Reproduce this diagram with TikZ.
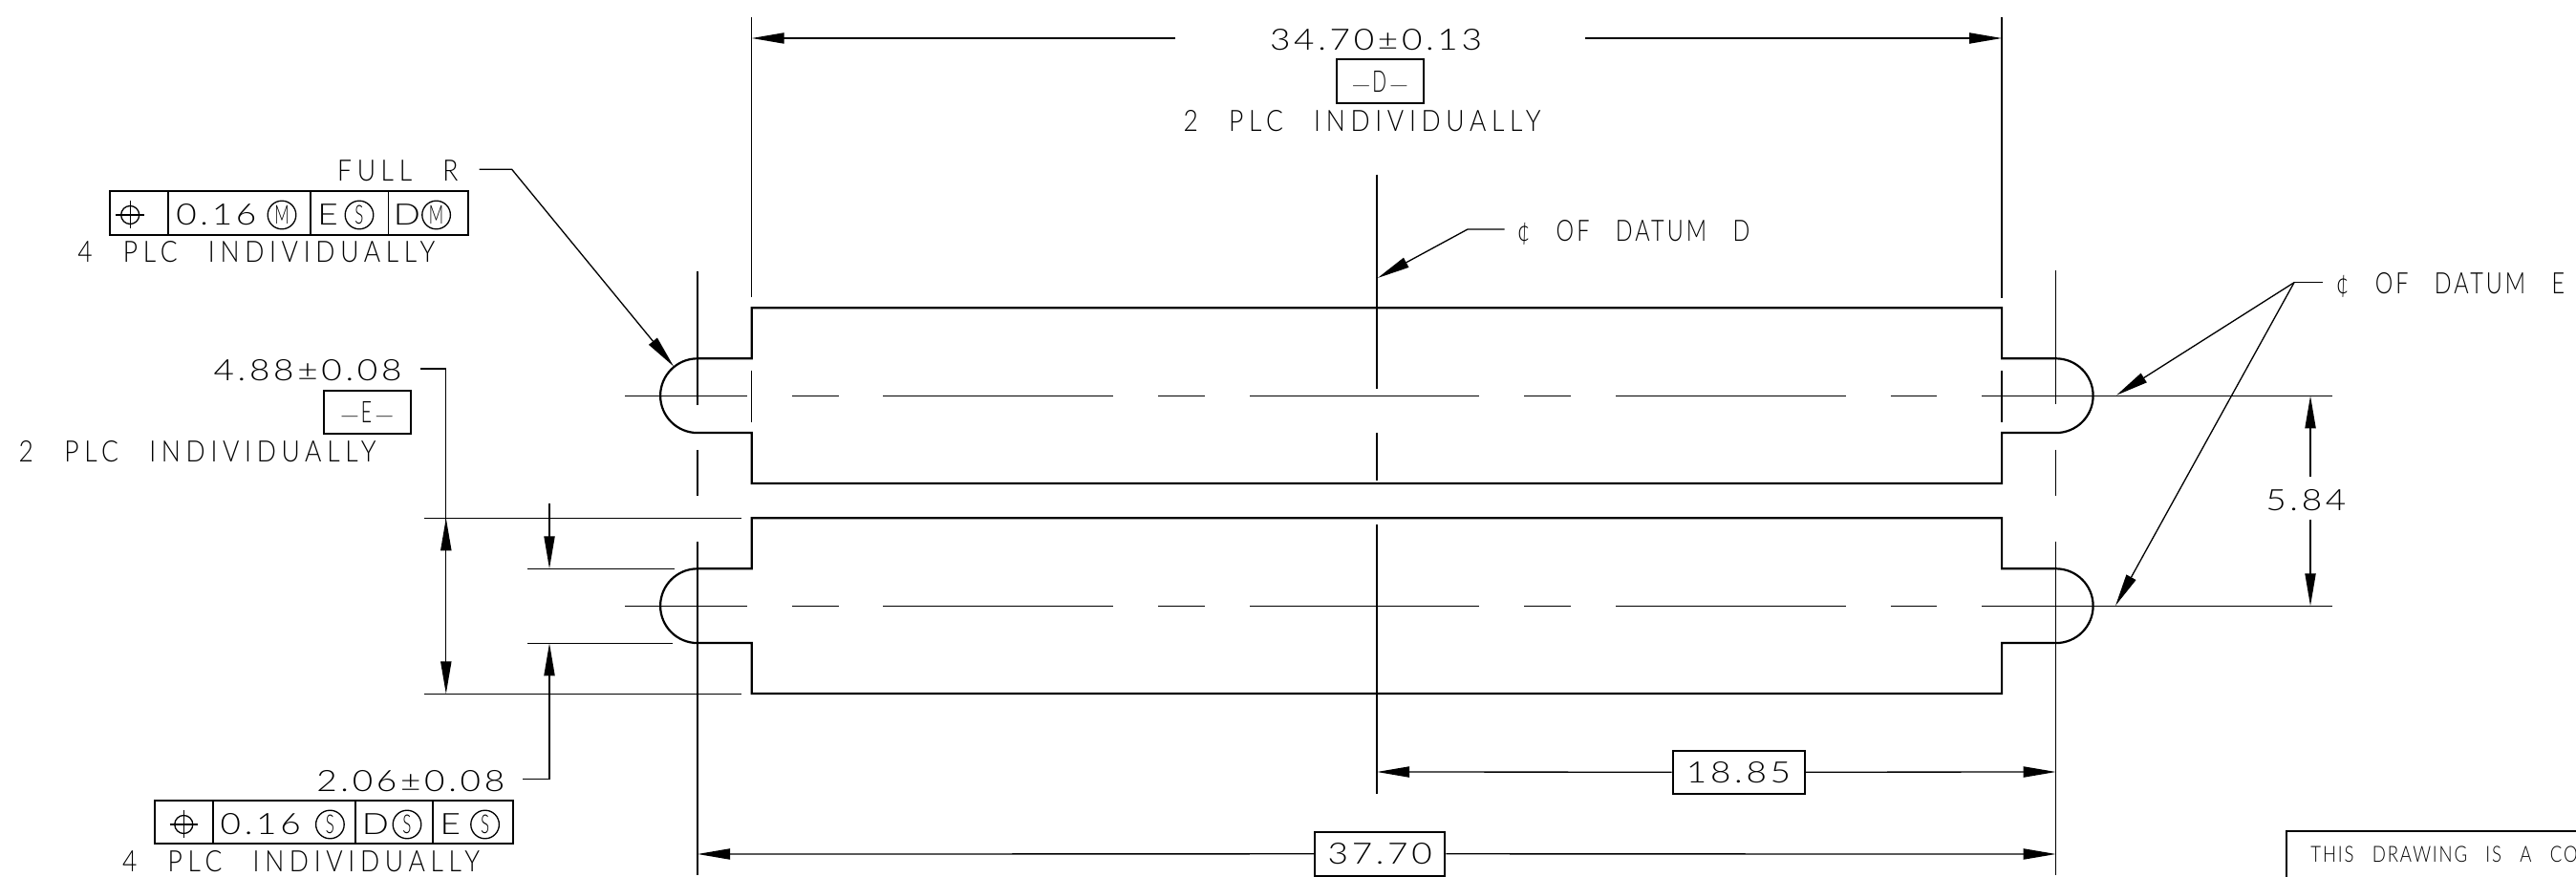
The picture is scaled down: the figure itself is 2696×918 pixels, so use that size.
\documentclass[tikz,border=0pt]{standalone}
\usepackage{fontspec}
\usepackage{xcolor}
\usetikzlibrary{arrows.meta}
\newfontfamily\capsfont[FakeStretch=0.86,LetterSpace=18.5,WordSpace=2.5]{Lato Light}
\newfontfamily\digitfont[FakeStretch=1.2,LetterSpace=12]{Lato Light}
\newfontfamily\narrowfont[FakeStretch=0.62]{Lato Light}
\newfontfamily\datumfont[FakeStretch=0.76,LetterSpace=10,WordSpace=2.9]{Lato Light}
\newfontfamily\notefont[FakeStretch=0.8,LetterSpace=8,WordSpace=2.8]{Lato Light}
\newcommand{\datumtag}[1]{{\digitfont\fontsize{5.4pt}{7pt}\selectfont —\kern0.4pt}{\narrowfont\fontsize{7.8pt}{9pt}\selectfont #1}{\digitfont\fontsize{5.4pt}{7pt}\selectfont\kern0.7pt—}}

\begin{document}
\begin{tikzpicture}[
            x=0.25pt, y=-0.25pt,
            >={Triangle[length=8.5pt,width=2.8pt]},
            outline/.style={line width=0.55pt},
            thinline/.style={line width=0.33pt},
            capstext/.style={inner sep=0pt, font=\capsfont\fontsize{7.7pt}{8pt}\selectfont},
            digittext/.style={inner sep=0pt, font=\digitfont\fontsize{7.7pt}{8pt}\selectfont},
            datumtext/.style={inner sep=0pt, anchor=west, font=\datumfont\fontsize{7.7pt}{8pt}\selectfont},
            datumbox/.style={draw, line width=0.5pt, inner sep=0pt, minimum width=22.7pt, minimum height=11.4pt},
            valuebox/.style={draw, fill=white, line width=0.5pt, inner sep=0pt, minimum height=11.4pt, font=\digitfont\fontsize{7.7pt}{8pt}\selectfont},
            modifier/.style={draw, circle, thinline, inner sep=0pt, minimum size=7.4pt, font=\narrowfont\fontsize{6.8pt}{7pt}\selectfont},
        ]
            \useasboundingbox (0,0) rectangle (2696,918);

            % the two slotted bars
            \foreach \cy in {0,220} {
                \draw[outline] (786.7,322.3+\cy) -- (2095.1,322.3+\cy) -- (2095.1,375.3+\cy) -- (2151.7,375.3+\cy)
                    arc[start angle=270, end angle=450, radius=38.9] -- (2095.1,453.1+\cy) -- (2095.1,506+\cy)
                    -- (786.7,506+\cy) -- (786.7,453.1+\cy) -- (730,453.1+\cy)
                    arc[start angle=90, end angle=270, radius=38.9] -- (786.7,375.3+\cy) -- cycle;
                \draw[thinline] (654,414.3+\cy) -- (781.7,414.3+\cy);
                \draw[thinline] (829,414.3+\cy) -- (877.7,414.3+\cy);
                \draw[thinline] (924.3,414.3+\cy) -- (1165,414.3+\cy);
                \draw[thinline] (1212,414.3+\cy) -- (1260.7,414.3+\cy);
                \draw[thinline] (1308,414.3+\cy) -- (1548.3,414.3+\cy);
                \draw[thinline] (1595.3,414.3+\cy) -- (1644,414.3+\cy);
                \draw[thinline] (1691,414.3+\cy) -- (1931.6,414.3+\cy);
                \draw[thinline] (1978.5,414.3+\cy) -- (2026.6,414.3+\cy);
                \draw[thinline] (2074,414.3+\cy) -- (2441,414.3+\cy);
            }

            % center and extension lines
            \draw[thinline] (786.7,18) -- (786.7,310.7);
            \draw[thinline] (786.7,387.7) -- (786.7,442.3);
            \draw[thinline] (2095.1,18) -- (2095.1,312);
            \draw[thinline] (2095.1,388) -- (2095.1,442.3);
            \draw[thinline] (730,284.3) -- (730,424);
            \draw[thinline] (730,471) -- (730,519.3);
            \draw[thinline] (730,567.3) -- (730,916);
            \draw[thinline] (2151.7,283.3) -- (2151.7,423);
            \draw[thinline] (2151.7,470.7) -- (2151.7,519);
            \draw[thinline] (2151.7,566.7) -- (2151.7,916);
            \draw[thinline] (1441,182.7) -- (1441,406.7);
            \draw[thinline] (1441,453.3) -- (1441,502.7);
            \draw[thinline] (1441,549.3) -- (1441,831);
            \draw[thinline] (443.9,542.3) -- (775.5,542.3);
            \draw[thinline] (443.9,726.3) -- (775.5,726.3);
            \draw[thinline] (552,595.3) -- (705.6,595.3);
            \draw[thinline] (552,673.3) -- (704,673.3);

            % top dimension
            \node (dimtop) at (1440,42) [digittext] {34.70±0.13};
            \node (datumd) at (1444.4,85) [datumbox] {\datumtag{D}};
            \node (plctop) at (1425.5,127) [capstext] {2 PLC INDIVIDUALLY};
            \coordinate (topl) at (1230,40);
            \coordinate (topr) at (1659,40);
            \draw[thinline, ->] (topl) -- (786.7,40);
            \draw[thinline, ->] (topr) -- (2095.1,40);

            % full radius leader and first frame
            \node (fullr) at (416.3,179) [capstext] {FULL R};
            \draw[thinline, ->] (501.5,177.3) -- (535.7,177.3) -- (705,383.5);
            \draw[line width=0.5pt] (114.8,200) rectangle (490.3,245.7);
            \draw[line width=0.4pt] (176,200) -- (176,245.7);
            \draw[line width=0.4pt] (325,200) -- (325,245.7);
            \draw[line width=0.4pt] (406.6,200) -- (406.6,245.7);
            \draw[thinline] (136.2,225) circle[radius=9.5];
            \draw[thinline] (121.4,225) -- (151,225);
            \draw[thinline] (136.2,210) -- (136.2,239.3);
            \node (tolone) at (226.3,225) [digittext] {0.16};
            \node (modone) at (295,225) [modifier] {M};
            \node (refe) at (343,225) [digittext] {E};
            \node (mode) at (376,225) [modifier] {S};
            \node (refd) at (426,225) [digittext] {D};
            \node (modd) at (456.6,225) [modifier] {M};
            \node (plcone) at (268.3,264) [capstext] {4 PLC INDIVIDUALLY};

            % slot width dimension
            \node (dimwidth) at (322,388) [digittext] {4.88±0.08};
            \node (datume) at (384.2,431.5) [datumbox] {\datumtag{E}};
            \node (plctwo) at (206.7,472.7) [capstext] {2 PLC INDIVIDUALLY};
            \draw[thinline, ->] (440,386) -- (466.8,386) -- (466.8,726.3);
            \draw[thinline, ->] (466.8,634) -- (466.8,542.3);

            % slot height dimension and second frame
            \draw[thinline, ->] (575,527.3) -- (575,595.3);
            \draw[thinline, ->] (547.4,815.3) -- (575,815.3) -- (575,673.3);
            \node (dimslot) at (429.8,818) [digittext] {2.06±0.08};
            \draw[line width=0.5pt] (161.7,838) rectangle (536.7,883.3);
            \draw[line width=0.4pt] (223,838) -- (223,883.3);
            \draw[line width=0.4pt] (372,838) -- (372,883.3);
            \draw[line width=0.4pt] (453,838) -- (453,883.3);
            \draw[thinline] (192.3,863) circle[radius=9.5];
            \draw[thinline] (177.5,863) -- (207,863);
            \draw[thinline] (192.3,848) -- (192.3,877.3);
            \node (toltwo) at (272.7,863) [digittext] {0.16};
            \node (modtwo) at (345.4,863) [modifier] {S};
            \node (refdtwo) at (392.8,863) [digittext] {D};
            \node (moddtwo) at (426,863) [modifier] {S};
            \node (refetwo) at (471.4,863) [digittext] {E};
            \node (modetwo) at (507.6,863) [modifier] {S};
            \node (plcthree) at (315,902) [capstext] {4 PLC INDIVIDUALLY};

            % datum notes
            \node (noted) at (1587,243) [datumtext] {¢ OF DATUM D};
            \draw[thinline, ->] (1574.5,240) -- (1536,240) -- (1441.8,291);
            \node (notee) at (2444,298) [datumtext] {¢ OF DATUM E};
            \coordinate (kneee) at (2401,295.7);
            \draw[thinline] (2430.5,295.7) -- (kneee);
            \draw[thinline, ->] (kneee) -- (2215,413.7);
            \draw[thinline, ->] (kneee) -- (2214,634);

            % pitch dimension
            \node (pitch) at (2413.3,524) [digittext] {5.84};
            \draw[thinline, ->] (2418,499.3) -- (2418,414.3);
            \draw[thinline, ->] (2418,544) -- (2418,634.3);

            % bottom dimensions
            \node (half) at (1819.5,808.3) [valuebox, minimum width=34.5pt] {18.85};
            \draw[thinline, ->] (half) -- (1441,808);
            \draw[thinline, ->] (half) -- (2151.7,808);
            \node (overall) at (1444.2,893.8) [valuebox, minimum width=34.1pt] {37.70};
            \draw[thinline, ->] (overall) -- (730,894);
            \draw[thinline, ->] (overall) -- (2151.7,894);

            % note box, cut by the edge of the sheet
            \draw[line width=0.6pt] (2393,918) -- (2393,870) -- (2696,870);
            \node (sheetnote) at (2417.6,894) [anchor=west, inner sep=0pt, font=\notefont\fontsize{5.8pt}{7pt}\selectfont] {THIS DRAWING IS A CO};
        \end{tikzpicture}
\end{document}
